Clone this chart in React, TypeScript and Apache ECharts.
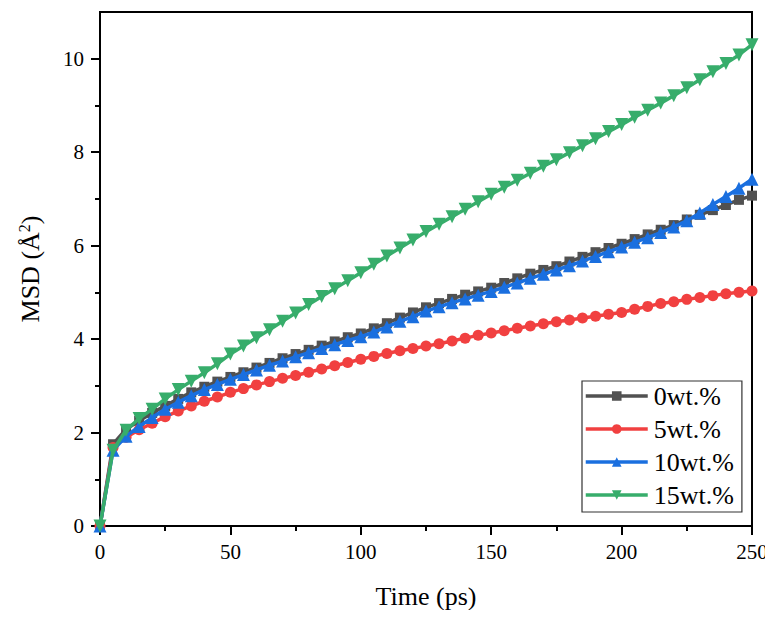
import React, { useEffect, useRef } from "react";
import * as echarts from "echarts";

const times: number[] = [];
for (let t = 0; t <= 250; t += 5) times.push(t);

const names = ["0wt.%", "5wt.%", "10wt.%", "15wt.%"];
const colors = ["#515151", "#F14040", "#1A6FDF", "#37AD6B"];

const wt0 = [0, 1.75, 2.07, 2.25, 2.42, 2.57, 2.72, 2.86, 2.98, 3.09, 3.19, 3.29, 3.39, 3.49, 3.59, 3.68, 3.77, 3.86, 3.95, 4.04, 4.12, 4.23, 4.34, 4.46, 4.57, 4.68, 4.77, 4.86, 4.95, 5.02, 5.1, 5.2, 5.3, 5.4, 5.48, 5.56, 5.66, 5.76, 5.86, 5.95, 6.04, 6.14, 6.24, 6.34, 6.44, 6.56, 6.66, 6.76, 6.87, 6.98, 7.07];
const wt5 = [0, 1.68, 1.9, 2.06, 2.2, 2.34, 2.46, 2.57, 2.67, 2.76, 2.86, 2.94, 3.02, 3.09, 3.16, 3.22, 3.29, 3.36, 3.43, 3.5, 3.57, 3.63, 3.69, 3.75, 3.8, 3.85, 3.9, 3.96, 4.02, 4.08, 4.13, 4.18, 4.23, 4.28, 4.33, 4.37, 4.41, 4.45, 4.49, 4.53, 4.57, 4.64, 4.7, 4.76, 4.8, 4.85, 4.89, 4.93, 4.97, 5.0, 5.03];
const wt10 = [0, 1.62, 1.92, 2.13, 2.32, 2.5, 2.65, 2.79, 2.92, 3.03, 3.14, 3.24, 3.34, 3.44, 3.53, 3.62, 3.71, 3.8, 3.88, 3.97, 4.05, 4.15, 4.26, 4.38, 4.48, 4.6, 4.69, 4.78, 4.86, 4.94, 5.02, 5.11, 5.2, 5.3, 5.39, 5.48, 5.57, 5.67, 5.77, 5.87, 5.97, 6.07, 6.17, 6.28, 6.4, 6.53, 6.7, 6.88, 7.05, 7.23, 7.42];
const wt15 = [0, 1.62, 2.05, 2.3, 2.5, 2.72, 2.92, 3.1, 3.28, 3.47, 3.68, 3.85, 4.03, 4.2, 4.38, 4.56, 4.74, 4.91, 5.08, 5.25, 5.42, 5.6, 5.78, 5.95, 6.12, 6.3, 6.46, 6.62, 6.78, 6.94, 7.1, 7.25, 7.4, 7.55, 7.7, 7.84, 7.99, 8.14, 8.29, 8.44, 8.59, 8.75, 8.9, 9.05, 9.21, 9.38, 9.55, 9.72, 9.9, 10.08, 10.3];

const seriesValues = [wt0, wt5, wt10, wt15];
const symbols = ["rect", "circle", "triangle", "path://M0,0 L10,0 L5,9 Z"];
const symbolSizes = [10, 11, 13, 13];

const yMajorTicks = [0, 2, 4, 6, 8, 10];
const yMinorTicks = [1, 3, 5, 7, 9];

const FONT = "'Liberation Serif', 'Times New Roman', serif";

export default function App() {
  const ref = useRef<HTMLDivElement>(null);
  useEffect(() => {
    if (!ref.current) return;
    const chart = echarts.init(ref.current, undefined, { renderer: "svg" });
    const yBase = {
      type: "value",
      min: 0,
      max: 11,
      position: "left",
      splitLine: { show: false },
    };
    chart.setOption({
      animation: false,
      backgroundColor: "#ffffff",
      textStyle: { fontFamily: FONT },
      grid: {
        left: 100,
        right: 21,
        top: 12,
        bottom: 92,
        show: true,
        borderColor: "#000",
        borderWidth: 2,
        backgroundColor: "transparent",
      },
      legend: {
        orient: "vertical",
        left: 582,
        top: 381,
        width: 160,
        borderColor: "#333",
        borderWidth: 1.2,
        padding: [2, 8, 4, 2],
        itemGap: 7,
        itemWidth: 62,
        itemHeight: 12,
        lineStyle: { width: 3.5 },
        textStyle: { fontFamily: FONT, fontSize: 26, color: "#000", padding: [0, 0, 0, 1] },
        data: names,
      },
      xAxis: {
        type: "value",
        min: 0,
        max: 250,
        interval: 50,
        name: "Time (ps)",
        nameLocation: "middle",
        nameGap: 57,
        nameTextStyle: { fontFamily: FONT, fontSize: 26, color: "#000" },
        axisLine: { show: true, lineStyle: { color: "#000", width: 2 } },
        axisTick: { show: true, inside: false, length: 9, lineStyle: { color: "#000", width: 2 } },
        minorTick: { show: true, splitNumber: 2, length: 5, lineStyle: { color: "#000", width: 2 } },
        axisLabel: { fontFamily: FONT, fontSize: 21, color: "#000", margin: 15 },
        splitLine: { show: false },
      },
      yAxis: [
        {
          ...yBase,
          name: "{a|MSD (Å}{s|2}{a|)}",
          nameLocation: "middle",
          nameRotate: 90,
          nameGap: 56,
          nameTextStyle: {
            rich: {
              a: { fontFamily: FONT, fontSize: 26, color: "#000" },
              s: { fontFamily: FONT, fontSize: 16, color: "#000", verticalAlign: "top", padding: [0, 0, 12, 0] },
            },
          },
          axisLine: { show: true, lineStyle: { color: "#000", width: 2 } },
          axisTick: { show: true, inside: false, length: 9, customValues: yMajorTicks, lineStyle: { color: "#000", width: 2 } },
          axisLabel: { fontFamily: FONT, fontSize: 21, color: "#000", margin: 16, customValues: yMajorTicks },
        },
        {
          ...yBase,
          axisLine: { show: false },
          axisTick: { show: true, inside: false, length: 5, customValues: yMinorTicks, lineStyle: { color: "#000", width: 2 } },
          axisLabel: { show: false },
        },
      ],
      series: seriesValues.map((vals, i) => ({
        name: names[i],
        type: "line",
        yAxisIndex: 0,
        data: vals.map((v, j) => [times[j], v]),
        symbol: symbols[i],
        symbolSize: symbolSizes[i],
        showSymbol: true,
        lineStyle: { color: colors[i], width: 3.5 },
        itemStyle: { color: colors[i] },
        z: 2 + i,
      })),
    });
    return () => chart.dispose();
  }, []);
  return <div ref={ref} style={{ width: 773, height: 618, margin: -8 }} />;
}
